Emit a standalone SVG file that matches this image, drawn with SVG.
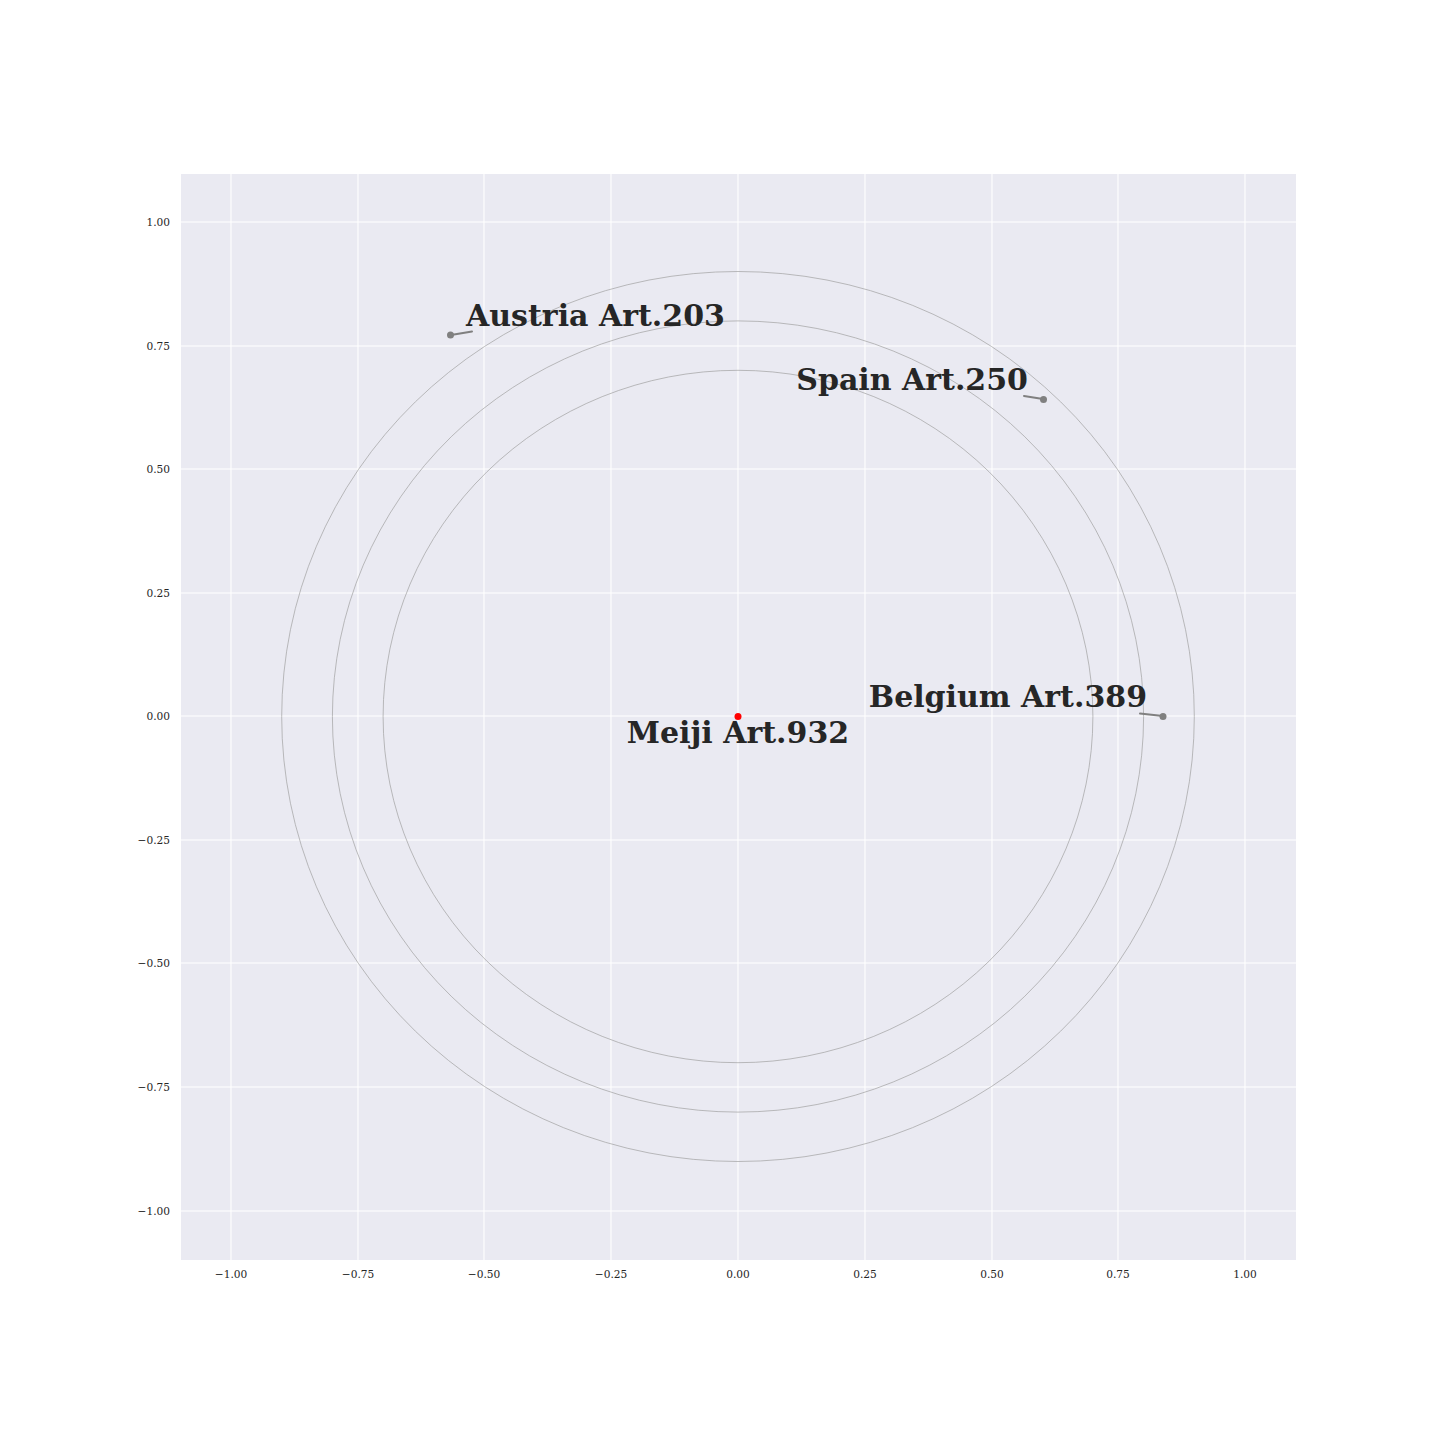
<svg xmlns="http://www.w3.org/2000/svg" width="1440" height="1440" viewBox="0 0 1440 1440">
<style>
.grid{stroke:#fff;stroke-width:1.1}
.ring{fill:none;stroke:#a0a0a0;stroke-width:0.7}
.tick{font-family:"DejaVu Serif",serif;font-size:10.6px;fill:#262626}
.lbl{font-family:"DejaVu Serif",serif;font-weight:bold;font-size:30px;fill:#262626}
.conn{stroke:#808080;stroke-width:2;stroke-linecap:round}
.pt{fill:#808080}
</style>
<rect width="1440" height="1440" fill="#fff"/>
<rect x="181" y="174" width="1115" height="1086" fill="#eaeaf2"/>
<g id="grid">
<line class="grid" x1="231" y1="174" x2="231" y2="1260"/>
<line class="grid" x1="358" y1="174" x2="358" y2="1260"/>
<line class="grid" x1="484" y1="174" x2="484" y2="1260"/>
<line class="grid" x1="611" y1="174" x2="611" y2="1260"/>
<line class="grid" x1="738" y1="174" x2="738" y2="1260"/>
<line class="grid" x1="865" y1="174" x2="865" y2="1260"/>
<line class="grid" x1="992" y1="174" x2="992" y2="1260"/>
<line class="grid" x1="1118" y1="174" x2="1118" y2="1260"/>
<line class="grid" x1="1245" y1="174" x2="1245" y2="1260"/>
<line class="grid" x1="181" y1="222" x2="1296" y2="222"/>
<line class="grid" x1="181" y1="346" x2="1296" y2="346"/>
<line class="grid" x1="181" y1="469" x2="1296" y2="469"/>
<line class="grid" x1="181" y1="593" x2="1296" y2="593"/>
<line class="grid" x1="181" y1="716" x2="1296" y2="716"/>
<line class="grid" x1="181" y1="840" x2="1296" y2="840"/>
<line class="grid" x1="181" y1="963" x2="1296" y2="963"/>
<line class="grid" x1="181" y1="1087" x2="1296" y2="1087"/>
<line class="grid" x1="181" y1="1211" x2="1296" y2="1211"/>
</g>
<g id="ticks">
<g class="tick" text-anchor="end">
<text x="170" y="226">1.00</text>
<text x="170" y="350">0.75</text>
<text x="170" y="473">0.50</text>
<text x="170" y="597">0.25</text>
<text x="170" y="720">0.00</text>
<text x="170" y="844">−0.25</text>
<text x="170" y="967">−0.50</text>
<text x="170" y="1091">−0.75</text>
<text x="170" y="1215">−1.00</text>
</g>
<g class="tick" text-anchor="middle">
<text x="231" y="1278">−1.00</text>
<text x="358" y="1278">−0.75</text>
<text x="484" y="1278">−0.50</text>
<text x="611" y="1278">−0.25</text>
<text x="738" y="1278">0.00</text>
<text x="865" y="1278">0.25</text>
<text x="992" y="1278">0.50</text>
<text x="1118" y="1278">0.75</text>
<text x="1245" y="1278">1.00</text>
</g>
</g>
<g id="rings">
<ellipse class="ring" cx="738" cy="716.5" rx="456.3" ry="445"/>
<ellipse class="ring" cx="738" cy="716.5" rx="405.6" ry="395.6"/>
<ellipse class="ring" cx="738" cy="716.5" rx="354.9" ry="346.2"/>
</g>
<g id="connectors">
<line class="conn" x1="451" y1="335" x2="472" y2="331.5"/>
<line class="conn" x1="1043" y1="399" x2="1024" y2="396"/>
<line class="conn" x1="1163" y1="716" x2="1140" y2="713.5"/>
</g>
<g id="node-meiji">
<circle cx="738" cy="716.5" r="3.5" fill="#ff0000"/>
<text class="lbl" x="738" y="743" text-anchor="middle">Meiji Art.932</text>
</g>
<g id="node-austria">
<circle class="pt" cx="450.5" cy="335" r="3.5"/>
<text class="lbl" x="466" y="326">Austria Art.203</text>
</g>
<g id="node-spain">
<circle class="pt" cx="1043.5" cy="399.5" r="3.5"/>
<text class="lbl" x="1028" y="390" text-anchor="end">Spain Art.250</text>
</g>
<g id="node-belgium">
<circle class="pt" cx="1163" cy="716.5" r="3.5"/>
<text class="lbl" x="1147" y="707" text-anchor="end">Belgium Art.389</text>
</g>
</svg>
